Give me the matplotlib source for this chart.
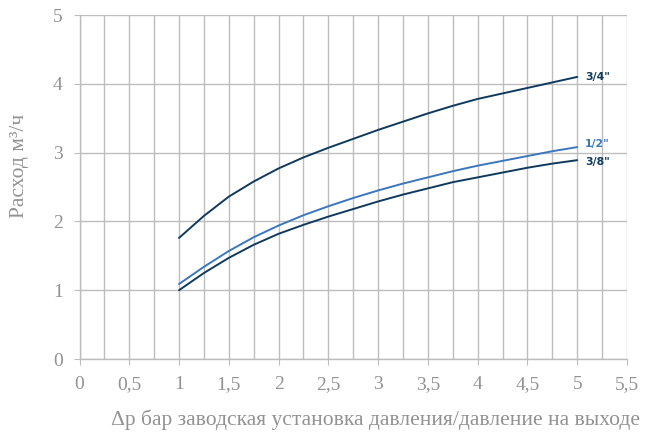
import matplotlib
matplotlib.use("Agg")
import matplotlib.pyplot as plt
import numpy as np

dp = [1.0, 1.25, 1.5, 1.75, 2.0, 2.25, 2.5, 2.75, 3.0, 3.25, 3.5, 3.75, 4.0, 4.25, 4.5, 4.75, 5.0]
q_34 = [1.76, 2.08, 2.36, 2.58, 2.77, 2.93, 3.07, 3.20, 3.33, 3.45, 3.57, 3.68, 3.78, 3.86, 3.94, 4.02, 4.10]
q_12 = [1.09, 1.34, 1.57, 1.77, 1.94, 2.09, 2.22, 2.34, 2.45, 2.55, 2.64, 2.73, 2.81, 2.88, 2.95, 3.02, 3.08]
q_38 = [1.00, 1.25, 1.47, 1.66, 1.82, 1.95, 2.07, 2.18, 2.29, 2.39, 2.48, 2.57, 2.64, 2.71, 2.78, 2.84, 2.89]
series_labels = ['3/4"', '1/2"', '3/8"']
x_ticks = [0, 0.5, 1, 1.5, 2, 2.5, 3, 3.5, 4, 4.5, 5, 5.5]
x_ticklabels = ["0", "0,5", "1", "1,5", "2", "2,5", "3", "3,5", "4", "4,5", "5", "5,5"]
y_ticks = [0, 1, 2, 3, 4, 5]
x_label = "Δр бар заводская установка давления/давление на выходе"
y_label = "Расход м³/ч"

dark = "#0f3a5e"
blue = "#3b76bf"
grey_txt = "#929292"
grid_c = "#bdbdbd"

fig = plt.figure(figsize=(6.45, 4.34), dpi=100)
ax = fig.add_axes([79.5/645, 1-359/434, (627-79.5)/645, (359-15)/434])
ax.set_xlim(0, 5.5)
ax.set_ylim(0, 5)

ax.set_xticks(np.arange(0, 5.51, 0.25), minor=True)
ax.set_xticks(x_ticks)
ax.set_xticklabels(x_ticklabels)
ax.set_yticks(y_ticks)
ax.grid(True, which="both", axis="x", color=grid_c, lw=1.0)
ax.grid(True, which="major", axis="y", color=grid_c, lw=1.0)
ax.tick_params(which="minor", length=0)
ax.tick_params(which="major", length=4, color=grid_c, labelcolor=grey_txt, labelsize=14, pad=8)
for lab in ax.get_xticklabels() + ax.get_yticklabels():
    lab.set_fontfamily("Liberation Serif")
for s in ["top", "right"]:
    ax.spines[s].set_visible(False)
for s in ["left", "bottom"]:
    ax.spines[s].set_color(grid_c)
    ax.spines[s].set_linewidth(1.0)
ax.set_axisbelow(True)

for ys, c, lab, dy in [(q_34, dark, series_labels[0], 0.0), (q_12, blue, series_labels[1], 0.05), (q_38, dark, series_labels[2], -0.02)]:
    ax.plot(dp, ys, color=c, lw=1.4, solid_capstyle="round", solid_joinstyle="round", zorder=3)
    ax.text(dp[-1] + 0.08, ys[-1] + dy, lab, color=c, fontsize=7.8, fontweight="bold",
            family="DejaVu Sans", va="center", ha="left")

fig.text(20/645, 1-166/434, y_label, rotation=90, ha="center", va="center",
         fontsize=15.5, color=grey_txt, family="Liberation Serif")
fig.text(640/645, 1-420/434, x_label, ha="right", va="center",
         fontsize=15.5, color=grey_txt, family="Liberation Serif")

fig.savefig("out.png", dpi=100)
